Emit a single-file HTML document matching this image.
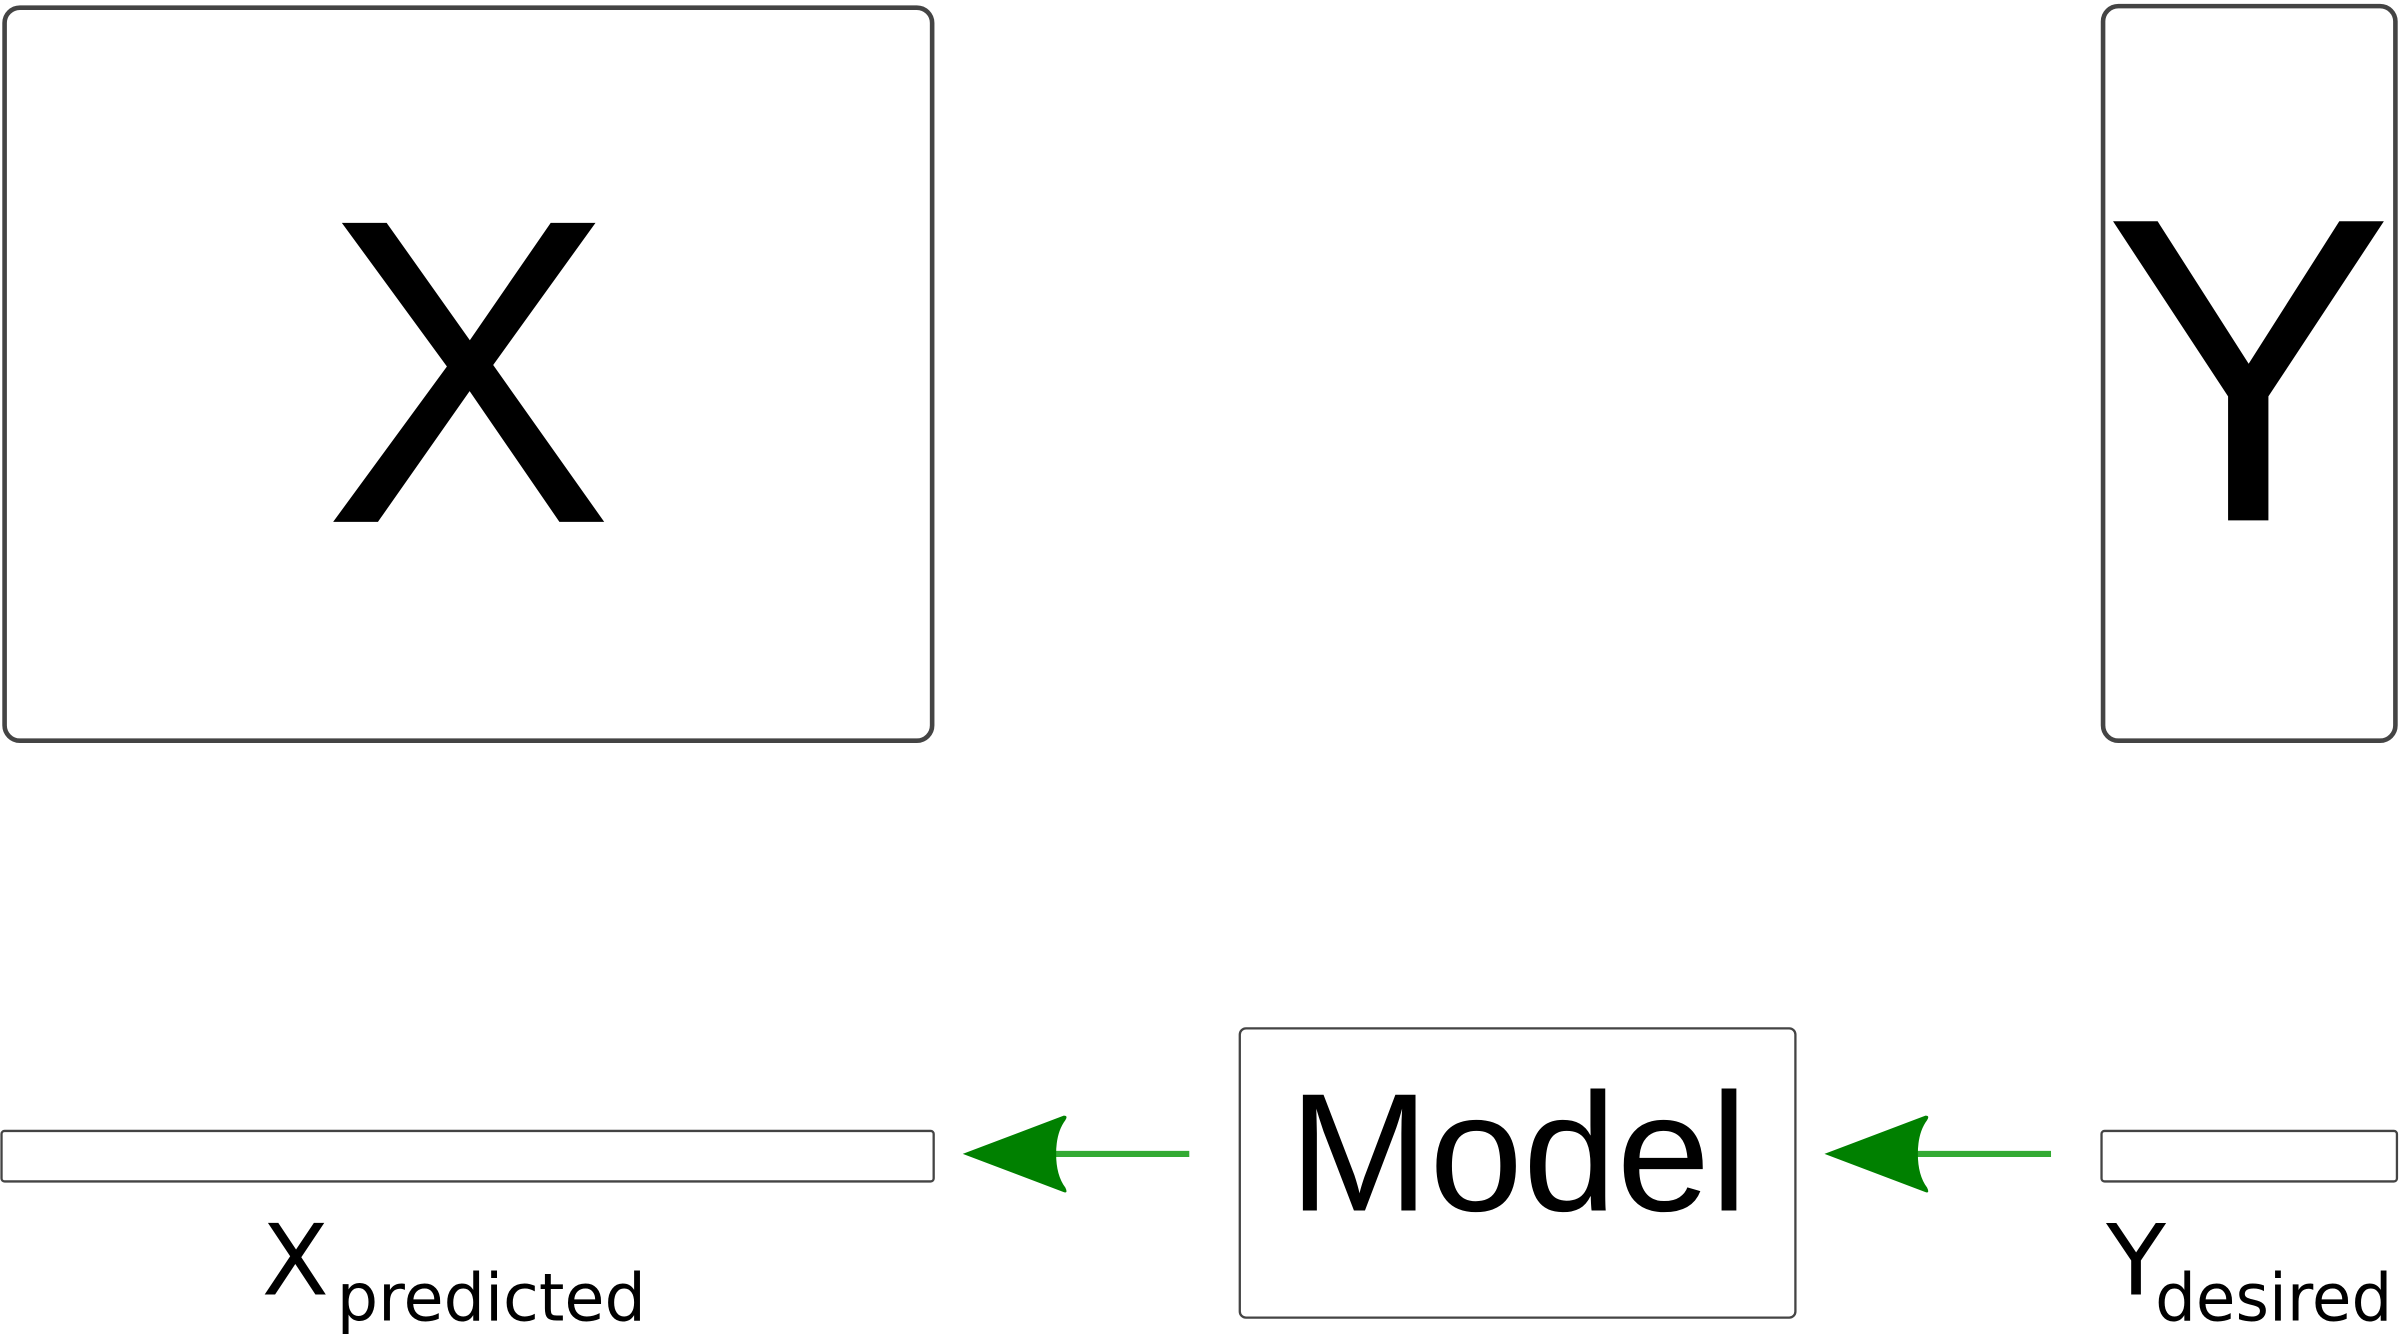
<!DOCTYPE html>
<html><head><meta charset="utf-8"><style>
html,body{margin:0;padding:0;background:#fff;}
svg{display:block;}
</style></head><body>
<svg width="2400" height="1336" viewBox="0 0 1568 873" preserveAspectRatio="none" xmlns="http://www.w3.org/2000/svg">
<rect x="3" y="5" width="606" height="479" rx="10" fill="#fff" stroke="#444" stroke-width="3"/>
<text x="306" y="341" font-family="Liberation Sans, sans-serif" font-size="284" text-anchor="middle" fill="#000">X</text>
<rect x="1374" y="4" width="191" height="480" rx="10" fill="#fff" stroke="#444" stroke-width="3"/>
<text x="1469" y="340" font-family="Liberation Sans, sans-serif" font-size="284" text-anchor="middle" fill="#000">Y</text>

<rect x="1" y="739" width="609" height="33" rx="2" fill="#fff" stroke="#444" stroke-width="1.5"/>
<rect x="1373" y="739" width="193" height="33" rx="2" fill="#fff" stroke="#444" stroke-width="1.5"/>

<rect x="810" y="672" width="363" height="189" rx="4" fill="#fff" stroke="#444" stroke-width="1.5"/>
<text x="992" y="791" font-family="Liberation Sans, sans-serif" font-size="110" text-anchor="middle" fill="#000">Model</text>

<line x1="777" y1="754" x2="688" y2="754" stroke="#3a3" stroke-width="4"/>
<path d="M629,754 L695,729 Q698,729 696,732 Q690,740 690,754 Q690,768 696,776 Q698,780 695,779 Z" fill="#008000"/>
<line x1="1340" y1="754" x2="1251" y2="754" stroke="#3a3" stroke-width="4"/>
<path d="M1192,754 L1258,729 Q1261,729 1259,732 Q1253,740 1253,754 Q1253,768 1259,776 Q1261,780 1258,779 Z" fill="#008000"/>

<text x="171" y="846" font-family="DejaVu Sans, sans-serif" font-size="64" fill="#000">X</text>
<text x="220" y="863" font-family="DejaVu Sans, sans-serif" font-size="43" textLength="202" lengthAdjust="spacingAndGlyphs" fill="#000">predicted</text>
<text x="1376" y="846" font-family="DejaVu Sans, sans-serif" font-size="64" fill="#000">Y</text>
<text x="1408" y="863" font-family="DejaVu Sans, sans-serif" font-size="43" textLength="155" lengthAdjust="spacingAndGlyphs" fill="#000">desired</text>
</svg>
</body></html>
